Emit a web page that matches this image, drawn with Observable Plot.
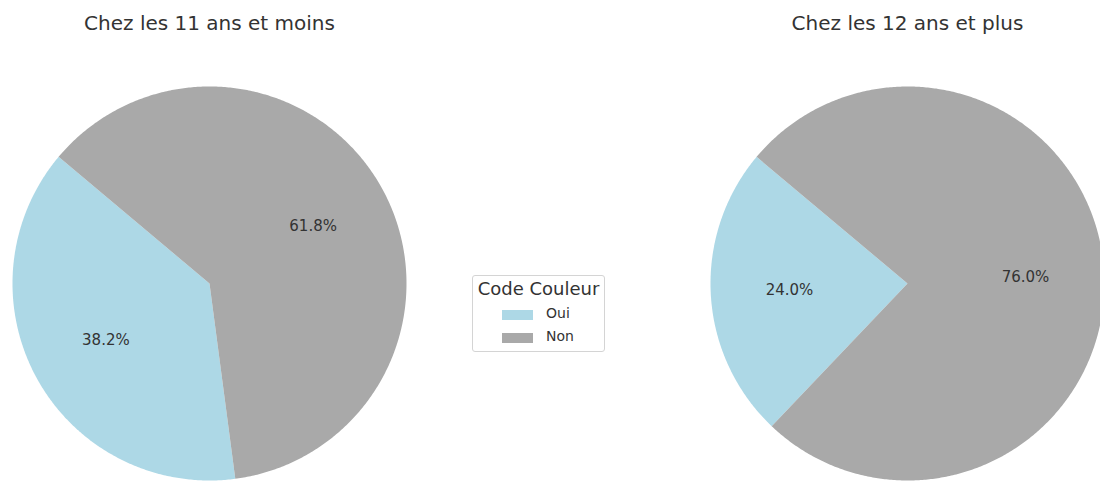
<!DOCTYPE html>
<html>
<head>
<meta charset="utf-8">
<script src="https://cdn.jsdelivr.net/npm/d3@7"></script>
<script src="https://cdn.jsdelivr.net/npm/@observablehq/plot@0.6"></script>
<style>
  html, body { margin: 0; padding: 0; background: #fff; }
  #wrap { position: relative; width: 1100px; height: 482px; overflow: hidden; font-family: "DejaVu Sans", sans-serif; }
  #legend { position: absolute; left: 472px; top: 275px; width: 131px; height: 75px; border: 1px solid #d4d4d4; border-radius: 3px; background: rgba(255,255,255,0.8); color: #333; }
  #legend .title { position: absolute; left: 0; width: 100%; top: 2px; text-align: center; font-size: 18px; }
  #legend .row { position: absolute; left: 29px; height: 16px; font-size: 14px; }
  #legend .sw { position: absolute; left: 0; top: 3px; width: 31px; height: 10px; }
  #legend .lab { position: absolute; left: 44px; top: -2px; white-space: nowrap; }
</style>
</head>
<body>
<div id="wrap"></div>
<script>
// ---- data ----
const groups = ["Chez les 11 ans et moins", "Chez les 12 ans et plus"];
const categories = ["Oui", "Non"];
const ouiValues = [38.2, 24.0];
const nonValues = [61.8, 76.0];
const colors = ["#add8e6", "#a9a9a9"];
const legendTitle = "Code Couleur";

// ---- layout ----
const W = 1100, H = 482;
const centersX = [209, 907];
const centerY = 283;
const radius = 197;
const startAngle = 140; // degrees, counterclockwise
const pctDistance = 0.6;
const titleY = 22.6;

// build slice polygons and label positions from the values
const polys = [];
const labels = [];
groups.forEach((g, gi) => {
  const vals = [ouiValues[gi], nonValues[gi]];
  const total = d3.sum(vals);
  let a = startAngle;
  vals.forEach((v, ci) => {
    const span = v / total * 360;
    const a0 = a, a1 = a + span;
    const cx = centersX[gi];
    const id = g + "|" + categories[ci];
    polys.push({id, cat: categories[ci], x: cx, y: centerY});
    const n = Math.max(2, Math.ceil(span * 2));
    for (let k = 0; k <= n; k++) {
      const t = (a0 + (a1 - a0) * k / n) * Math.PI / 180;
      polys.push({id, cat: categories[ci], x: cx + radius * Math.cos(t), y: centerY - radius * Math.sin(t)});
    }
    polys.push({id, cat: categories[ci], x: cx, y: centerY});
    const m = (a0 + a1) / 2 * Math.PI / 180;
    labels.push({
      x: cx + pctDistance * radius * Math.cos(m),
      y: centerY - pctDistance * radius * Math.sin(m),
      text: v.toFixed(1) + "%"
    });
    a = a1;
  });
});
const titles = groups.map((g, gi) => ({x: centersX[gi], y: titleY, text: g}));

const plot = Plot.plot({
  width: W,
  height: H,
  margin: 0,
  x: {domain: [0, W], axis: null},
  y: {domain: [0, H], reverse: true, axis: null},
  color: {domain: categories, range: colors},
  style: {fontFamily: "DejaVu Sans, sans-serif", background: "transparent"},
  marks: [
    Plot.line(polys, {x: "x", y: "y", z: "id", fill: "cat", stroke: "none", curve: "linear"}),
    Plot.text(labels, {x: "x", y: "y", text: "text", fontSize: 15, fill: "#333"}),
    Plot.text(titles, {x: "x", y: "y", text: "text", fontSize: 20, fill: "#333"})
  ]
});
const wrap = document.getElementById("wrap");
wrap.appendChild(plot);

// legend built from the color scale
const cs = plot.scale("color");
const leg = document.createElement("div");
leg.id = "legend";
const t = document.createElement("div");
t.className = "title";
t.textContent = legendTitle;
leg.appendChild(t);
cs.domain.forEach((c, i) => {
  const row = document.createElement("div");
  row.className = "row";
  row.style.top = (31 + i * 22.5) + "px";
  const sw = document.createElement("div");
  sw.className = "sw";
  sw.style.background = cs.range[i];
  const lab = document.createElement("div");
  lab.className = "lab";
  lab.textContent = c;
  row.appendChild(sw);
  row.appendChild(lab);
  leg.appendChild(row);
});
wrap.appendChild(leg);
</script>
</body>
</html>
